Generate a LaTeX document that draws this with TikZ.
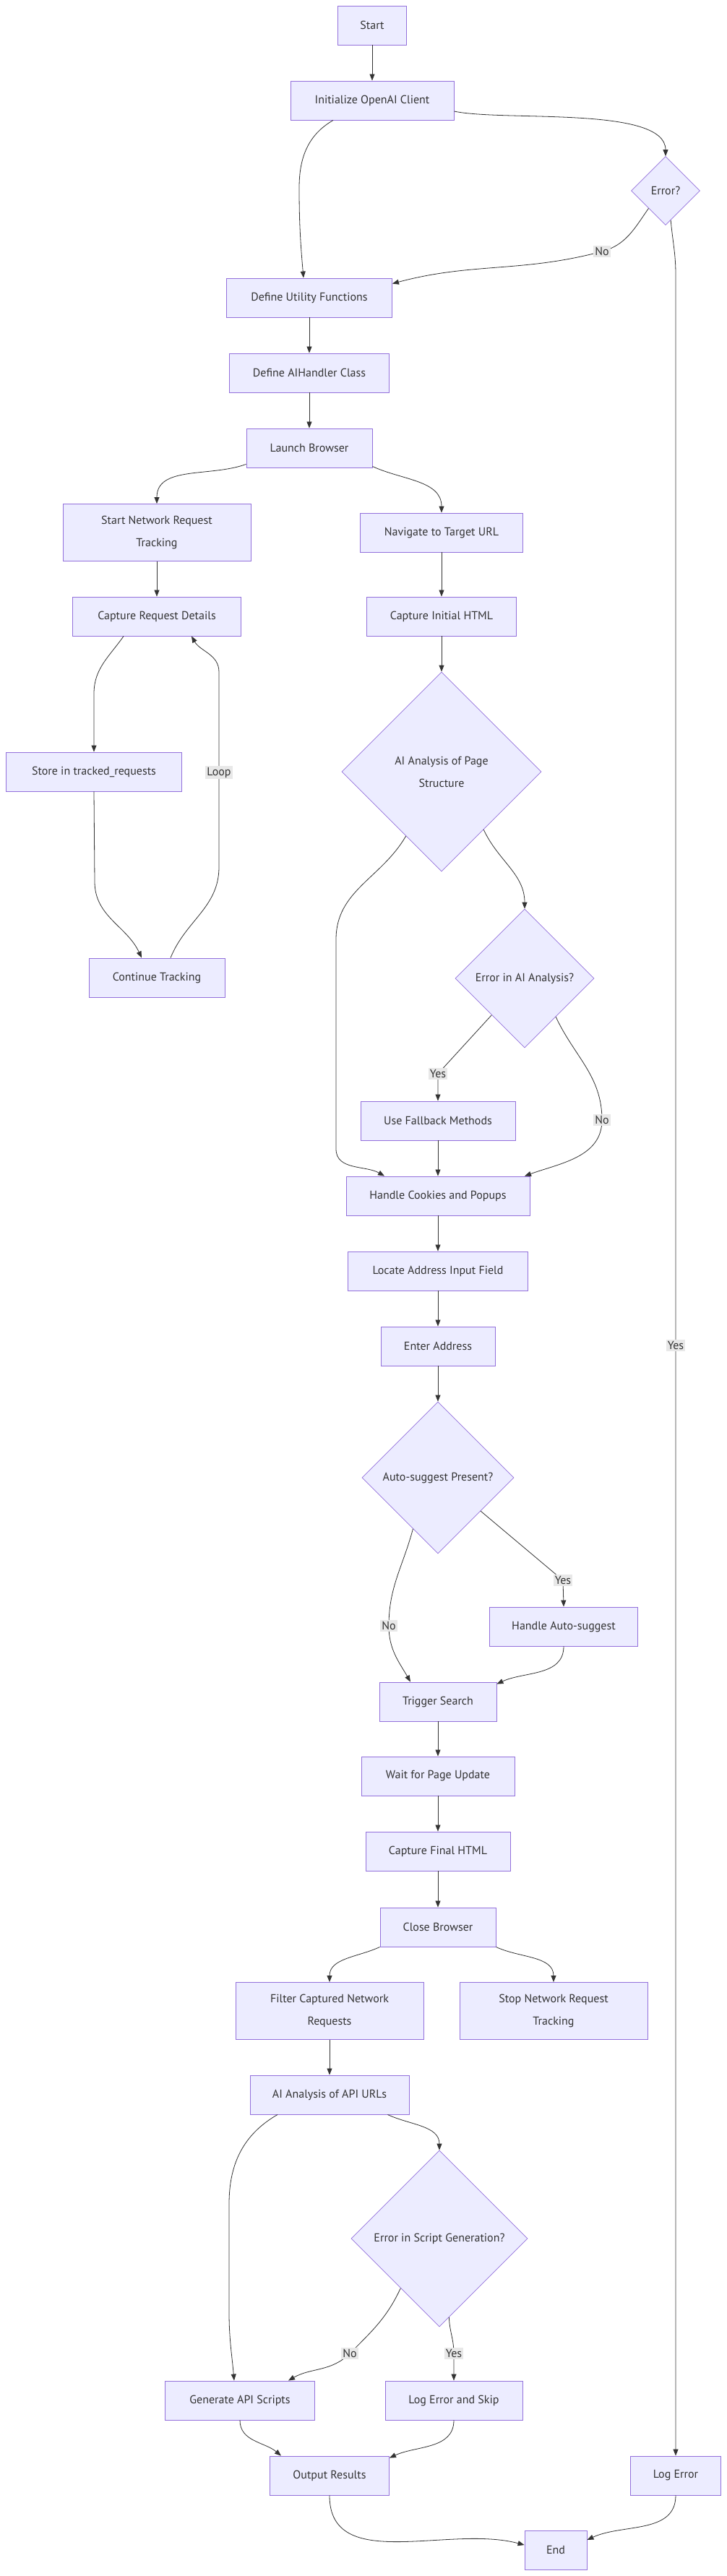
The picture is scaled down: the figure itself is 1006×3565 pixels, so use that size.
\documentclass[tikz,border=0pt]{standalone}
\usepackage{fontspec}
\setmainfont{PT Sans}
\usetikzlibrary{shapes.geometric,arrows.meta}
\definecolor{mmfill}{HTML}{ECECFF}
\definecolor{mmline}{HTML}{9370DB}
\definecolor{mmedge}{HTML}{333333}
\definecolor{mmlbl}{HTML}{E8E8E8}
\tikzset{
  box/.style={draw=mmline, fill=mmfill, line width=0.9pt, minimum height=54pt, align=center, text=mmedge, font=\fontsize{16}{31}\selectfont},
  dia/.style={diamond, aspect=1, draw=mmline, fill=mmfill, line width=0.7pt, inner sep=0pt, align=center, text=mmedge, font=\fontsize{16}{31}\selectfont},
  flow/.style={draw=mmedge, line width=0.8pt, -{Triangle[length=9pt,width=7pt]}},
  lbl/.style={fill=mmlbl, text=mmedge, inner sep=2pt, font=\fontsize{16}{18}\selectfont}
}
\begin{document}
\begin{tikzpicture}[x=1pt,y=-1pt]
    \useasboundingbox (0,0) rectangle (1006,3565);
    % nodes
    \node[box, minimum width=95pt] (start) at (515,35) {Start};
    \node[box, minimum width=226pt] (init) at (515,139) {Initialize OpenAI Client};
    \node[dia, minimum width=95pt, minimum height=95pt] (err) at (921,264) {Error?};
    \node[box, minimum width=229pt] (util) at (428,412) {Define Utility Functions};
    \node[box, minimum width=221pt] (aih) at (428,516) {Define AIHandler Class};
    \node[box, minimum width=174pt] (launch) at (428,620) {Launch Browser};
    \node[box, minimum width=260pt, minimum height=79pt] (startnet) at (217,737) {Start Network Request\\Tracking};
    \node[box, minimum width=225pt] (nav) at (611,737) {Navigate to Target URL};
    \node[box, minimum width=233pt] (capreq) at (217,853) {Capture Request Details};
    \node[box, minimum width=207pt] (capinit) at (611,853) {Capture Initial HTML};
    \node[box, minimum width=243pt] (store) at (130,1068) {Store in tracked\_requests};
    \node[dia, minimum width=276pt, minimum height=276pt] (aipage) at (611,1068) {AI Analysis of Page\\Structure};
    \node[box, minimum width=188pt] (cont) at (217,1353) {Continue Tracking};
    \node[dia, minimum width=192pt, minimum height=192pt] (errai) at (726,1354) {Error in AI Analysis?};
    \node[box, minimum width=214pt] (fallback) at (606,1551) {Use Fallback Methods};
    \node[box, minimum width=254pt] (cookies) at (606,1655) {Handle Cookies and Popups};
    \node[box, minimum width=249pt] (locate) at (606,1759) {Locate Address Input Field};
    \node[box, minimum width=158pt] (enter) at (606,1863) {Enter Address};
    \node[dia, minimum width=210pt, minimum height=210pt] (auto) at (606,2045) {Auto-suggest Present?};
    \node[box, minimum width=205pt] (handauto) at (780,2251) {Handle Auto-suggest};
    \node[box, minimum width=162pt] (trigger) at (606,2355) {Trigger Search};
    \node[box, minimum width=212pt] (wait) at (606,2458) {Wait for Page Update};
    \node[box, minimum width=200pt] (capfinal) at (606,2562) {Capture Final HTML};
    \node[box, minimum width=160pt] (close) at (606,2667) {Close Browser};
    \node[box, minimum width=260pt, minimum height=79pt] (filter) at (456,2783) {Filter Captured Network\\Requests};
    \node[box, minimum width=260pt, minimum height=79pt] (stop) at (766,2783) {Stop Network Request\\Tracking};
    \node[box, minimum width=220pt] (aiapi) at (456,2899) {AI Analysis of API URLs};
    \node[dia, minimum width=244pt, minimum height=244pt] (script) at (608,3098) {Error in Script Generation?};
    \node[box, minimum width=207pt] (gen) at (332,3322) {Generate API Scripts};
    \node[box, minimum width=190pt] (logskip) at (628,3322) {Log Error and Skip};
    \node[box, minimum width=165pt] (output) at (456,3426) {Output Results};
    \node[box, minimum width=125pt] (logerr) at (935,3426) {Log Error};
    \node[box, minimum width=86pt] (end) at (769,3529) {End};

    % connectors
    \draw[flow] (start) -- (init);
    \draw[flow] ([xshift=-54pt]init.south) to[out=-150,in=90] (414,260) to[out=-90,in=95] ([xshift=-8pt]util.north);
    \draw[flow] ([yshift=-15pt]init.east) to[out=-12,in=90,looseness=0.6] (err.north);
    \draw[flow] (err.-134) to[out=235,in=15] (833,348) node[lbl] {No} to[out=195,in=15] ([yshift=-8pt]util.north east);
    \draw[flow] (err.-80) to[out=-85,in=90] (935,380) -- (935,1862) node[lbl] {Yes} -- (logerr.north);
    \draw[flow] (util) -- (aih);
    \draw[flow] (aih) -- (launch);
    \draw[flow] ([yshift=5pt]launch.south west) to[out=200,in=90] (startnet.north);
    \draw[flow] ([yshift=2pt]launch.south east) to[out=-25,in=90] (nav.north);
    \draw[flow] (startnet) -- (capreq);
    \draw[flow] (nav) -- (capinit);
    \draw[flow] (capinit) -- (aipage);
    \draw[flow] ([xshift=-46pt]capreq.south) to[out=235,in=90] (130,960) -- (store.north);
    \draw[flow] (store.south) -- (131,1220) to[out=-90,in=115] ([xshift=-21pt]cont.north);
    \draw[flow] ([xshift=19pt]cont.north) to[out=68,in=-90] (303,1200) -- (303,1069) node[lbl] {Loop} -- (303,930) to[out=90,in=-60] ([xshift=48pt]capreq.south);
    \draw[flow] (aipage.-119) to[out=240,in=90] (465,1300) -- (465,1590) to[out=-90,in=150] ([xshift=-74pt]cookies.north);
    \draw[flow] (aipage.-54) to[out=-65,in=90] (errai.north);
    \draw[flow] (errai.-132) -- (606,1486) node[lbl] {Yes} -- (fallback.north);
    \draw[flow] (errai.-51) to[out=-65,in=90] (833,1550) node[lbl] {No} to[out=-90,in=20] ([xshift=120pt]cookies.north);
    \draw[flow] (fallback) -- (cookies);
    \draw[flow] (cookies) -- (locate);
    \draw[flow] (locate) -- (enter);
    \draw[flow] (enter) -- (auto);
    \draw[flow] (auto.-38) -- (779,2187) node[lbl] {Yes} -- (handauto.north);
    \draw[flow] (auto.-116) to[out=-105,in=90] (538,2250) node[lbl] {No} to[out=-90,in=120] ([xshift=-38pt]trigger.north);
    \draw[flow] (handauto.south) to[out=-90,in=25] ([yshift=-3pt]trigger.north east);
    \draw[flow] (trigger) -- (wait);
    \draw[flow] (wait) -- (capfinal);
    \draw[flow] (capfinal) -- (close);
    \draw[flow] (close.south west) to[out=205,in=90] (filter.north);
    \draw[flow] (close.south east) to[out=-25,in=90] (stop.north);
    \draw[flow] (filter) -- (aiapi);
    \draw[flow] ([xshift=-72pt]aiapi.south) to[out=210,in=90] (317,3050) -- (317,3200) to[out=-90,in=95] ([xshift=-8pt]gen.north);
    \draw[flow] ([xshift=-30pt]aiapi.south east) to[out=-25,in=90] (script.north);
    \draw[flow] (script.-128) to[out=-115,in=45] (484,3257) node[lbl] {No} to[out=225,in=30] ([xshift=67pt]gen.north);
    \draw[flow] (script.-83) to[out=-88,in=90] (628,3257) node[lbl] {Yes} -- (logskip.north);
    \draw[flow] (gen.south) to[out=-90,in=140] ([xshift=-67pt]output.north);
    \draw[flow] (logskip.south) to[out=-90,in=25] ([yshift=-3pt]output.north east);
    \draw[flow] (output.south) to[out=-90,in=165] ([yshift=7pt]end.west);
    \draw[flow] (logerr.south) to[out=-90,in=25] ([yshift=14pt]end.east);
\end{tikzpicture}
\end{document}
